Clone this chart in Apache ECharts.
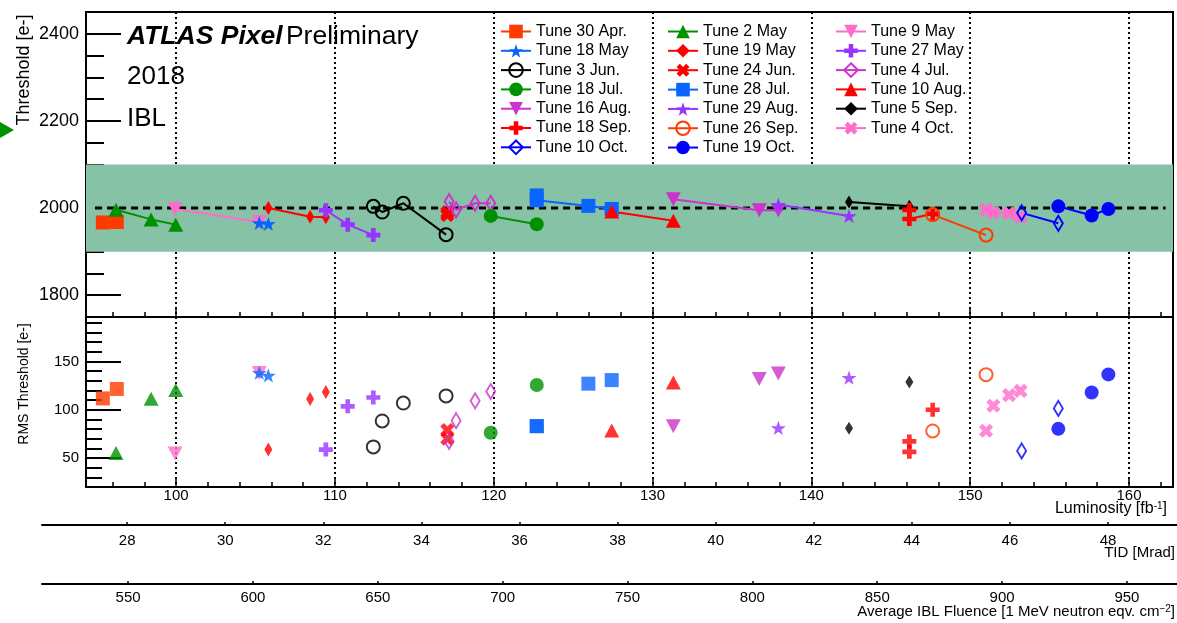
<!DOCTYPE html>
<html>
<head>
<meta charset="utf-8">
<script src="https://cdn.jsdelivr.net/npm/echarts@6/dist/echarts.min.js"></script>
<style>
  html, body { margin: 0; padding: 0; background: #ffffff; }
  #chart { width: 1177px; height: 623px; }
</style>
</head>
<body>
<div id="chart"></div>
<script>
// ---------------- data ----------------
const tuneNames = [
  'Tune 30 Apr.', 'Tune 2 May', 'Tune 9 May',
  'Tune 18 May', 'Tune 19 May', 'Tune 27 May',
  'Tune 3 Jun.', 'Tune 24 Jun.', 'Tune 4 Jul.',
  'Tune 18 Jul.', 'Tune 28 Jul.', 'Tune 10 Aug.',
  'Tune 16 Aug.', 'Tune 29 Aug.', 'Tune 5 Sep.',
  'Tune 18 Sep.', 'Tune 26 Sep.', 'Tune 4 Oct.',
  'Tune 10 Oct.', 'Tune 19 Oct.'
];

// integrated luminosity [fb-1] of each measurement, per tune
const tuneLumi = [
  [95.39, 96.27],
  [96.22, 98.43, 99.98],
  [99.94, 105.24],
  [105.24, 105.81],
  [105.81, 108.44, 109.43],
  [109.43, 110.81, 112.42],
  [112.42, 112.98, 114.31, 117.0],
  [117.08, 117.08],
  [117.19, 117.63, 118.83, 119.81],
  [119.81, 122.71],
  [122.71, 122.71, 125.96, 127.43],
  [127.43, 131.31],
  [131.31, 136.72, 137.92],
  [137.92, 142.37],
  [142.37, 146.17],
  [146.17, 146.17, 147.64],
  [147.64, 151.0],
  [151.0, 151.46, 152.45, 153.17],
  [153.24, 155.55],
  [155.55, 157.65, 158.70]
];

// mean threshold [e-]
const tuneThreshold = [
  [1967, 1968],
  [1996, 1974, 1962],
  [1998, 1968],
  [1966, 1964],
  [2000, 1980, 1979],
  [1995, 1962, 1938],
  [2004, 1991, 2011, 1939],
  [1990, 1984],
  [2015, 1996, 2011, 2011],
  [1982, 1963],
  [2029, 2018, 2005, 1998],
  [1992, 1971],
  [2020, 1995, 1995],
  [2008, 1982],
  [2014, 2004],
  [1996, 1975, 1987],
  [1985, 1938],
  [1996, 1990, 1988, 1980],
  [1989, 1965],
  [2004, 1983, 1998]
];

// RMS of the threshold [e-]
const tuneRms = [
  [111.7, 121.5],
  [55.1, 111.3, 120.4],
  [54.6, 138.0],
  [138.3, 135.6],
  [58.7, 111.0, 118.4],
  [58.7, 103.5, 112.7],
  [61.5, 88.4, 106.9, 114.3],
  [79.0, 70.0],
  [67.2, 88.7, 109.2, 118.9],
  [76.1, 125.6],
  [83.0, 83.0, 127.0, 130.7],
  [78.5, 128.1],
  [83.0, 131.8, 137.4],
  [81.2, 133.2],
  [80.9, 128.7],
  [67.2, 56.4, 100.0],
  [78.0, 136.3],
  [78.2, 104.1, 115.1, 119.5],
  [57.4, 101.4],
  [80.2, 117.8, 136.6]
];

// target threshold and tolerance band [e-]
const targetThreshold = 2000;
const targetSpan = [94.9, 162.3];
const bandRange = [1900, 2100];

// axis ranges and ticks
const lumiRange = [94.33, 162.77];
const lumiMajor = [100, 160, 10];
const lumiMinor = [96, 162, 2];
const thrRange = [1750, 2450];
const thrMajor = [1800, 2400, 200];
const thrMinor = [1800, 2400, 50];
const rmsRange = [20, 196];
const rmsMajor = [50, 150, 50];
const rmsMinor = [30, 190, 10];
const tidTicks = [28, 48, 2];
const fluenceTicks = [550, 950, 50];
// luminosity values at which the secondary scales reach their end ticks
const lumiAtTid = [96.92, 158.68];
const lumiAtFluence = [96.98, 159.87];

// ---------------- styles ----------------
const STAR = 'path://M50,0L61.8,35.1L97.6,34.5L69.1,56.7L79.4,90.5L50,70L20.6,90.5L30.9,56.7L2.4,34.5L38.2,35.1Z';
const PLUS = 'path://M4,0H8V4H12V8H8V12H4V8H0V4H4Z';
const tuneStyles = [
  { color: '#ff3a00', symbol: 'rect', size: 14 },
  { color: '#009100', symbol: 'triangle', size: [15, 14] },
  { color: '#ff6ccb', symbol: 'triangle', size: [15, 14], rotate: 180 },
  { color: '#0a64ff', symbol: STAR, size: 15 },
  { color: '#ff0000', symbol: 'diamond', size: [8, 14] },
  { color: '#9933ff', symbol: PLUS, size: 14 },
  { color: '#000000', symbol: 'circle', size: 13, open: true },
  { color: '#ff0000', symbol: PLUS, size: 15, rotate: 45 },
  { color: '#cc33cc', symbol: 'diamond', size: [9, 15], open: true },
  { color: '#009100', symbol: 'circle', size: 14 },
  { color: '#0a64ff', symbol: 'rect', size: 14 },
  { color: '#ff0000', symbol: 'triangle', size: [15, 14] },
  { color: '#cc33cc', symbol: 'triangle', size: [15, 14], rotate: 180 },
  { color: '#9933ff', symbol: STAR, size: 15 },
  { color: '#000000', symbol: 'diamond', size: [8, 13] },
  { color: '#ff0000', symbol: PLUS, size: 14 },
  { color: '#ff3a00', symbol: 'circle', size: 13, open: true },
  { color: '#ff6ccb', symbol: PLUS, size: 15, rotate: 45 },
  { color: '#0000ff', symbol: 'diamond', size: [9, 15], open: true },
  { color: '#0000ff', symbol: 'circle', size: 14 }
];

const FONT = '"Liberation Sans", Arial, Helvetica, sans-serif';
const plainNumber = v => String(v);

// ---------------- layout ----------------
const PANEL_L = 86, PANEL_R = 1173;
const TOP_Y0 = 12, TOP_Y1 = 317, BOT_Y1 = 487;
const TID_Y = 525, FLU_Y = 584, EXTRA_L = 42, EXTRA_R = 1177;

const xPix = v => PANEL_L + (v - lumiRange[0]) / (lumiRange[1] - lumiRange[0]) * (PANEL_R - PANEL_L);
const yTop = v => TOP_Y0 + (thrRange[1] - v) / (thrRange[1] - thrRange[0]) * (TOP_Y1 - TOP_Y0);
const yBot = v => TOP_Y1 + (rmsRange[1] - v) / (rmsRange[1] - rmsRange[0]) * (BOT_Y1 - TOP_Y1);

const grids = [];
const xAxes = [];
const yAxes = [];
function addGrid(box) {
  grids.push(Object.assign({ outerBoundsMode: 'none', containLabel: false }, box));
  return grids.length - 1;
}
const hiddenAxis = (g) => ({ gridIndex: g, type: 'value', show: false, min: 0, max: 1 });

// data panels
const gTop = addGrid({ left: PANEL_L, top: TOP_Y0, width: PANEL_R - PANEL_L, height: TOP_Y1 - TOP_Y0,
  show: true, borderColor: '#000', borderWidth: 2, backgroundColor: 'transparent' });
xAxes.push({ gridIndex: gTop, type: 'value', min: lumiRange[0], max: lumiRange[1], show: false });
yAxes.push({ gridIndex: gTop, type: 'value', min: thrRange[0], max: thrRange[1], show: false });

const gBot = addGrid({ left: PANEL_L, top: TOP_Y1, width: PANEL_R - PANEL_L, height: BOT_Y1 - TOP_Y1,
  show: true, borderColor: '#000', borderWidth: 2, backgroundColor: 'transparent' });
xAxes.push({ gridIndex: gBot, type: 'value', min: lumiRange[0], max: lumiRange[1], show: false });
yAxes.push({ gridIndex: gBot, type: 'value', min: rmsRange[0], max: rmsRange[1], show: false });

// vertical tick axes (threshold and RMS)
function tickY(yFn, ticks, len, labelSize) {
  const top = yFn(ticks[1]), bottom = yFn(ticks[0]);
  const g = addGrid({ left: PANEL_L, top: top, width: PANEL_R - PANEL_L, height: bottom - top });
  xAxes.push(hiddenAxis(g));
  yAxes.push({
    gridIndex: g, type: 'value', position: 'left', offset: 0,
    min: ticks[0], max: ticks[1], interval: ticks[2],
    axisLine: { show: false },
    axisTick: { show: true, inside: true, length: len, lineStyle: { color: '#000', width: 2 } },
    axisLabel: labelSize
      ? { show: true, margin: 7, fontSize: labelSize, fontFamily: FONT, color: '#000', formatter: plainNumber }
      : { show: false },
    splitLine: { show: false }
  });
}
tickY(yTop, thrMajor, 35, 18);
tickY(yTop, thrMinor, 18, 0);
tickY(yBot, rmsMajor, 35, 15);
tickY(yBot, rmsMinor, 16, 0);

// luminosity tick axes with dotted grid lines
function tickX(y0, y1, ticks, len, grid, labels) {
  const left = xPix(ticks[0]), right = xPix(ticks[1]);
  const g = addGrid({ left: left, top: y0, width: right - left, height: y1 - y0 });
  yAxes.push(hiddenAxis(g));
  xAxes.push({
    gridIndex: g, type: 'value', position: 'bottom',
    min: ticks[0], max: ticks[1], interval: ticks[2],
    axisLine: { show: false },
    axisTick: { show: true, inside: true, length: len, lineStyle: { color: '#000', width: 1.5 } },
    axisLabel: labels
      ? { show: true, margin: 1, fontSize: 15, fontFamily: FONT, color: '#000', formatter: plainNumber }
      : { show: false },
    splitLine: grid ? { show: true, lineStyle: { color: '#000', width: 2, type: [2, 3] } } : { show: false }
  });
}
tickX(TOP_Y0, TOP_Y1, lumiMajor, 10, true, false);
tickX(TOP_Y0, TOP_Y1, lumiMinor, 5, false, false);
tickX(TOP_Y1, BOT_Y1, lumiMajor, 10, true, true);
tickX(TOP_Y1, BOT_Y1, lumiMinor, 5, false, false);

// secondary scales: TID and fluence
function extraScale(yLine, ticks, lumiEnds, labelMargin) {
  const gl = addGrid({ left: EXTRA_L, top: yLine - 5, width: EXTRA_R - EXTRA_L, height: 5 });
  yAxes.push(hiddenAxis(gl));
  xAxes.push({ gridIndex: gl, type: 'value', min: 0, max: 1, position: 'bottom',
    axisLine: { show: true, lineStyle: { color: '#000', width: 2 } },
    axisTick: { show: false }, axisLabel: { show: false }, splitLine: { show: false } });
  const left = xPix(lumiEnds[0]), right = xPix(lumiEnds[1]);
  const g = addGrid({ left: left, top: yLine - 5, width: right - left, height: 5 });
  yAxes.push(hiddenAxis(g));
  xAxes.push({ gridIndex: g, type: 'value', position: 'bottom',
    min: ticks[0], max: ticks[1], interval: ticks[2],
    axisLine: { show: false },
    axisTick: { show: true, inside: true, length: 3, lineStyle: { color: '#000', width: 1.5 } },
    axisLabel: { show: true, margin: labelMargin, fontSize: 15, fontFamily: FONT, color: '#000', formatter: plainNumber },
    splitLine: { show: false } });
}
extraScale(TID_Y, tidTicks, lumiAtTid, 8);
extraScale(FLU_Y, fluenceTicks, lumiAtFluence, 6);

// ---------------- series ----------------
const series = [];
series.push({
  name: 'band', type: 'line', xAxisIndex: 0, yAxisIndex: 0, z: 1, silent: true,
  data: [[lumiRange[0], bandRange[0]]], symbol: 'none', lineStyle: { opacity: 0 },
  markArea: { silent: true, itemStyle: { color: '#86c2a5', opacity: 1 },
    data: [[{ xAxis: lumiRange[0], yAxis: bandRange[0] }, { xAxis: lumiRange[1], yAxis: bandRange[1] }]] }
});
series.push({
  name: 'target', type: 'line', xAxisIndex: 0, yAxisIndex: 0, z: 2, silent: true,
  data: targetSpan.map(x => [x, targetThreshold]), symbol: 'none',
  lineStyle: { color: '#000', width: 3, type: [7, 5] }
});

tuneNames.forEach((name, i) => {
  const st = tuneStyles[i];
  const itemStyle = st.open
    ? { color: 'rgba(255,255,255,0)', borderColor: st.color, borderWidth: 2 }
    : { color: st.color, borderWidth: 0 };
  const common = {
    name: name, symbol: st.symbol, symbolSize: st.size, symbolRotate: st.rotate || 0,
    symbolKeepAspect: true, itemStyle: itemStyle, z: 3, silent: true
  };
  series.push(Object.assign({}, common, {
    type: 'line', xAxisIndex: 0, yAxisIndex: 0, showAllSymbol: true,
    data: tuneLumi[i].map((x, k) => [x, tuneThreshold[i][k]]),
    lineStyle: { color: st.color, width: 2 }
  }));
  series.push(Object.assign({}, common, {
    type: 'scatter', xAxisIndex: 1, yAxisIndex: 1,
    data: tuneLumi[i].map((x, k) => [x, tuneRms[i][k]])
  }));
});

// ---------------- legends (three columns) ----------------
const legendLeft = [500, 667, 835];
const legends = legendLeft.map((left, c) => ({
  show: true, orient: 'vertical', left: left, top: 22, padding: 0,
  itemWidth: 30, itemHeight: 17, itemGap: 0.3, selectedMode: false,
  data: tuneNames.filter((n, i) => i % 3 === c),
  textStyle: { fontSize: 16, fontFamily: FONT, color: '#000', lineHeight: 19 }
}));

// ---------------- text ----------------
const graphic = [
  { type: 'text', x: 127, y: 37, style: {
      text: '{a|ATLAS Pixel} {b|Preliminary}', verticalAlign: 'middle',
      rich: { a: { fontSize: 26.5, fontWeight: 'bold', fontStyle: 'italic', fontFamily: FONT, fill: '#000' },
              b: { fontSize: 26.5, fontFamily: FONT, fill: '#000' } } } },
  { type: 'text', x: 127, y: 77, style: { text: '2018', fontSize: 26, fontFamily: FONT, fill: '#000', verticalAlign: 'middle' } },
  { type: 'text', x: 127, y: 119, style: { text: 'IBL', fontSize: 26, fontFamily: FONT, fill: '#000', verticalAlign: 'middle' } },
  { type: 'text', x: 24, y: 70, rotation: Math.PI / 2, style: { text: 'Threshold [e-]', fontSize: 18, fontFamily: FONT, fill: '#000', align: 'center', verticalAlign: 'middle' } },
  { type: 'text', x: 24, y: 384, rotation: Math.PI / 2, style: { text: 'RMS Threshold [e-]', fontSize: 14, fontFamily: FONT, fill: '#000', align: 'center', verticalAlign: 'middle' } },
  { type: 'text', x: 1167, y: 509, style: {
      text: 'Luminosity [fb{s|-1}]', align: 'right', verticalAlign: 'middle', fontSize: 16, fontFamily: FONT, fill: '#000',
      rich: { s: { fontSize: 10, fontFamily: FONT, fill: '#000', verticalAlign: 'top', padding: [0, 0, 6, 0] } } } },
  { type: 'text', x: 1175, y: 553, style: { text: 'TID [Mrad]', align: 'right', verticalAlign: 'middle', fontSize: 15, fontFamily: FONT, fill: '#000' } },
  { type: 'text', x: 1175, y: 612, style: {
      text: 'Average IBL Fluence [1 MeV neutron eqv. cm{s|\u22122}]', align: 'right', verticalAlign: 'middle', fontSize: 15, fontFamily: FONT, fill: '#000',
      rich: { s: { fontSize: 10, fontFamily: FONT, fill: '#000', verticalAlign: 'top', padding: [0, 0, 6, 0] } } } },
  { type: 'polygon', shape: { points: [[0, 122], [14, 130], [0, 138]] }, style: { fill: '#009100' } }
];

const chart = echarts.init(document.getElementById('chart'), null, { renderer: 'canvas', width: 1177, height: 623 });
chart.setOption({
  animation: false,
  backgroundColor: '#ffffff',
  textStyle: { fontFamily: FONT },
  grid: grids,
  xAxis: xAxes,
  yAxis: yAxes,
  legend: legends,
  series: series,
  graphic: graphic
});
</script>
</body>
</html>
